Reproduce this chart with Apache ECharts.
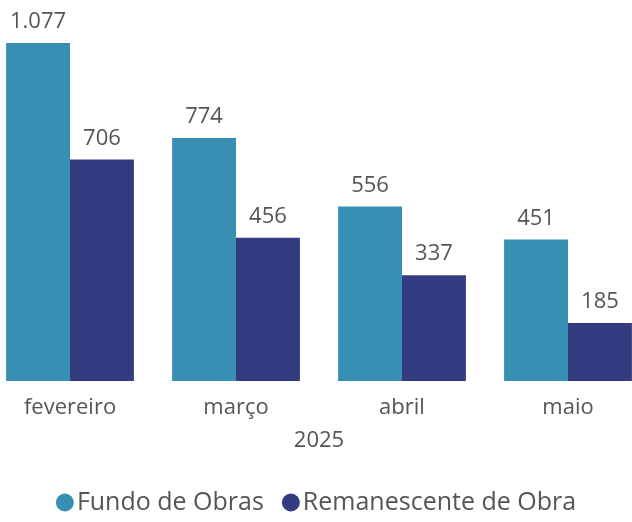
<!DOCTYPE html>
<html>
<head>
<meta charset="utf-8">
<script src="https://cdn.jsdelivr.net/npm/echarts@6/dist/echarts.min.js"></script>
<style>
  html, body { margin: 0; padding: 0; background: #fff; }
  #chart { width: 632px; height: 522px; }
</style>
</head>
<body>
<div id="chart"></div>
<script>
const months = ['fevereiro', 'março', 'abril', 'maio']
const fundoObras = [1077, 774, 556, 451]
const remanescente = [706, 456, 337, 185]
const yearLabel = '2025'

const fmt = v => v.toLocaleString('pt-BR')

const chart = echarts.init(document.getElementById('chart'))

const labelStyle = {
  show: true,
  position: 'top',
  distance: 10,
  color: '#555',
  fontSize: 22,
  fontFamily: 'Open Sans',
  formatter: p => fmt(p.value)
}

chart.setOption({
  animation: false,
  textStyle: { fontFamily: 'Open Sans' },
  grid: {
    left: -13,
    right: -19,
    top: 10,
    bottom: 141,
    containLabel: false,
    outerBoundsMode: 'none'
  },
  legend: {
    bottom: 2,
    left: 'center',
    icon: 'circle',
    itemWidth: 18,
    itemHeight: 18,
    itemGap: 18,
    itemStyle: { borderWidth: 0 },
    textStyle: { color: '#555', fontSize: 25, fontFamily: 'Open Sans', padding: [0, 0, 0, -2] },
    data: ['Fundo de Obras', 'Remanescente de Obra']
  },
  xAxis: {
    type: 'category',
    data: months,
    name: yearLabel,
    nameLocation: 'middle',
    nameGap: 49,
    nameTextStyle: { color: '#555', fontSize: 22 },
    axisLine: { show: false },
    axisTick: { show: false },
    axisLabel: { color: '#555', fontSize: 22, margin: 16 }
  },
  yAxis: {
    type: 'value',
    min: 0,
    max: 1182,
    show: false,
    splitLine: { show: false }
  },
  series: [
    {
      name: 'Fundo de Obras',
      type: 'bar',
      data: fundoObras,
      barGap: '0%',
      barCategoryGap: '23%',
      itemStyle: { color: '#3790B4' },
      label: labelStyle
    },
    {
      name: 'Remanescente de Obra',
      type: 'bar',
      data: remanescente,
      itemStyle: { color: '#343C81' },
      label: labelStyle
    }
  ]
})
</script>
</body>
</html>
